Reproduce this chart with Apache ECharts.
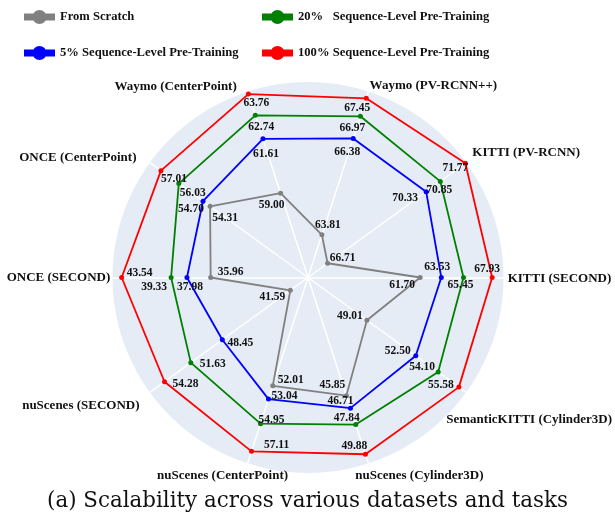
<!DOCTYPE html>
<html>
<head>
<meta charset="utf-8">
<script src="https://cdn.jsdelivr.net/npm/echarts@6/dist/echarts.min.js"></script>
<style>
  html, body { margin: 0; padding: 0; background: #ffffff; }
  #chart { width: 615px; height: 521px; }
</style>
</head>
<body>
<div id="chart"></div>
<script>
// Radar axes, counter-clockwise from the right-hand spoke
const indicatorNames = [
  'KITTI (SECOND)', 'KITTI (PV-RCNN)', 'Waymo (PV-RCNN++)', 'Waymo (CenterPoint)',
  'ONCE (CenterPoint)', 'ONCE (SECOND)', 'nuScenes (SECOND)', 'nuScenes (CenterPoint)',
  'nuScenes (Cylinder3D)', 'SemanticKITTI (Cylinder3D)'
];
// Per-axis radial range (value at the centre / value at the rim)
const axisMin = [52.00, 65.99, 62.67, 54.95, 48.93, 27.67, 39.81, 43.57, 37.73, 44.80];
const axisMax = [68.91, 71.80, 67.63, 63.88, 57.62, 44.32, 55.76, 58.05, 50.51, 56.10];

const seriesNames = [
  'From Scratch',
  '5% Sequence-Level Pre-Training',
  '20%   Sequence-Level Pre-Training',
  '100% Sequence-Level Pre-Training'
];
const fromScratch = [61.70, 66.71, 63.81, 59.00, 54.31, 35.96, 41.59, 52.01, 45.85, 49.01];
const pre5        = [63.53, 70.33, 66.38, 61.61, 54.70, 37.98, 48.45, 53.04, 46.71, 52.50];
const pre20       = [65.45, 70.85, 66.97, 62.74, 56.03, 39.33, 51.63, 54.95, 47.84, 54.10];
const pre100      = [67.93, 71.77, 67.45, 63.76, 57.01, 43.54, 54.28, 57.11, 49.88, 55.58];

const caption = '(a) Scalability across various datasets and tasks';

// ---- presentation ----
const seriesValues = [fromScratch, pre5, pre20, pre100];
const seriesColors = ['#808080', '#0000ff', '#008000', '#ff0000'];

// value-label nudges [dx, dy] in px, per series and axis
const labelNudge = [
  [[-18, 8], [15, -5], [6, -10], [-9, 12], [15, 12], [20, -5], [-18, 7], [18, -6], [-14, -11], [-17, -4]],
  [[-4, -10], [-21, 6], [-6, 14], [3, 15], [-12, 8], [3, 10], [18, 3], [16, -3], [-10, -7], [-18, -5]],
  [[-3, 8], [-1, 9], [-8, 12], [6, 12], [14, 9], [-17, 10], [22, 1], [11, -4], [-9, -7], [-16, -5]],
  [[-5, -8], [-10, 5], [-9, 10], [8, 9], [13, 8], [18, -4], [21, 2], [25, -6], [-11, -8], [-18, -2]]
];
// axis-name offsets from the rim point [dx, dy]
const nameNudge = [[56, 1.5], [60, -10], [65, -5.6], [-72, -4.6], [-72, -5.3], [-54, 0], [-69, 13.6], [-25, 12.3], [51, 12.3], [63, 27]];

function pad(d) {
  const dx = d[0], dy = d[1];
  return [Math.max(2 * dy, 0), Math.max(-2 * dx, 0), Math.max(-2 * dy, 0), Math.max(2 * dx, 0)];
}

const serifBold = { fontFamily: 'Liberation Serif', fontWeight: 'bold', color: '#111111' };

const nameRich = {};
indicatorNames.forEach((n, i) => {
  nameRich['n' + i] = Object.assign({ fontSize: 13, padding: pad(nameNudge[i]) }, serifBold);
});

const valueRich = {};
seriesValues.forEach((vals, s) => {
  vals.forEach((v, d) => {
    valueRich['v' + s + '_' + d] = Object.assign({ fontSize: 11.5, padding: pad(labelNudge[s][d]) }, serifBold);
  });
});

const legendIcon = 'path://M0,3.5L31,3.5L31,10.5L0,10.5Z M15.5,0A7,7 0 1 1 15.5,14A7,7 0 1 1 15.5,0Z';

const legendBase = {
  orient: 'vertical',
  icon: legendIcon,
  itemWidth: 31,
  itemHeight: 14,
  itemGap: 22,
  top: 10,
  padding: 0,
  selectedMode: false,
  textStyle: { fontFamily: 'Liberation Serif', fontWeight: 'bold', fontSize: 12.6, color: '#111111' }
};

const chart = echarts.init(document.getElementById('chart'), null, { renderer: 'canvas' });

chart.setOption({
  animation: false,
  backgroundColor: '#ffffff',
  title: {
    text: caption,
    left: 'center',
    top: 486,
    textStyle: { fontFamily: 'DejaVu Serif', fontWeight: 'normal', fontSize: 21.4, color: '#111111' }
  },
  legend: [
    Object.assign({}, legendBase, {
      left: 24,
      data: [0, 1].map(i => ({ name: seriesNames[i], itemStyle: { color: seriesColors[i], borderWidth: 0 } }))
    }),
    Object.assign({}, legendBase, {
      left: 262,
      data: [2, 3].map(i => ({ name: seriesNames[i], itemStyle: { color: seriesColors[i], borderWidth: 0 } }))
    })
  ],
  radar: {
    center: [308, 277.5],
    radius: 195.5,
    startAngle: 0,
    shape: 'circle',
    splitNumber: 1,
    nameGap: 0,
    indicator: indicatorNames.map((n, i) => ({ name: n, min: axisMin[i], max: axisMax[i] })),
    axisName: {
      align: 'center',
      verticalAlign: 'middle',
      fontFamily: 'Liberation Serif',
      fontWeight: 'bold',
      fontSize: 13,
      color: '#111111',
      formatter: function (name) {
        return '{n' + indicatorNames.indexOf(name) + '|' + name + '}';
      },
      rich: nameRich
    },
    splitArea: { show: true, areaStyle: { color: ['#e5ecf6'] } },
    splitLine: { show: false },
    axisLine: { show: true, lineStyle: { color: '#ffffff', width: 1.5 } },
    axisTick: { show: false },
    axisLabel: { show: false }
  },
  series: seriesValues.map((vals, s) => ({
    type: 'radar',
    name: seriesNames[s],
    symbol: 'circle',
    symbolSize: 5,
    z: 2 + s,
    lineStyle: { color: seriesColors[s], width: 1.8 },
    itemStyle: { color: seriesColors[s], borderWidth: 0 },
    label: {
      show: true,
      position: 'inside',
      fontFamily: 'Liberation Serif',
      fontWeight: 'bold',
      fontSize: 11.5,
      color: '#111111',
      formatter: function (p) {
        let v = p.value;
        let d = p.dimensionIndex;
        if (Array.isArray(v)) v = v[d];
        if (d == null) d = seriesValues[s].indexOf(v);
        return '{v' + s + '_' + d + '|' + Number(v).toFixed(2) + '}';
      },
      rich: valueRich
    },
    data: [{ name: seriesNames[s], value: vals }]
  }))
});
</script>
</body>
</html>
